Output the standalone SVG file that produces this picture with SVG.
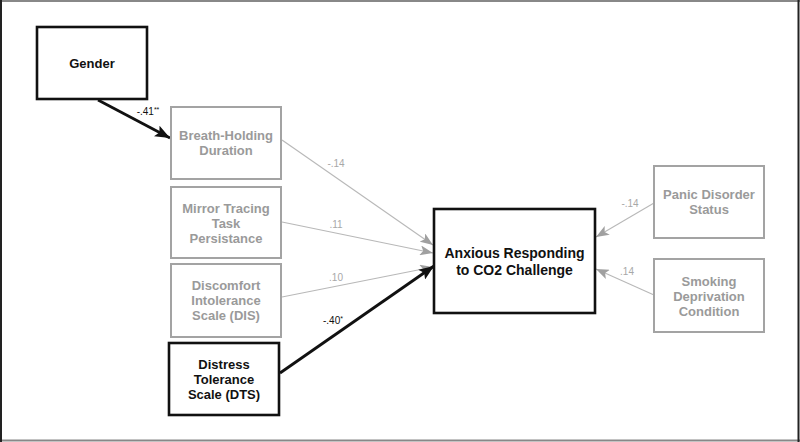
<svg xmlns="http://www.w3.org/2000/svg" width="800" height="442" viewBox="0 0 800 442">
<style>
.bg{fill:#fff}
.frameL{stroke:#222;stroke-width:2}
.frameT{stroke:#888;stroke-width:2}
.bk{fill:#fff;stroke:#111;stroke-width:2.6}
.gy{fill:#fff;stroke:#a3a3a3;stroke-width:2}
.tb{font-family:"Liberation Sans",Arial,sans-serif;font-weight:bold;font-size:13px;fill:#111;text-anchor:middle}
.tg{font-family:"Liberation Sans",Arial,sans-serif;font-weight:bold;font-size:13px;fill:#9a9a9a;text-anchor:middle}
.tbig{font-family:"Liberation Sans",Arial,sans-serif;font-weight:bold;font-size:14px;fill:#111;text-anchor:middle}
.lb{font-family:"Liberation Sans",Arial,sans-serif;font-size:10px;fill:#111;text-anchor:middle}
.lg{font-family:"Liberation Sans",Arial,sans-serif;font-size:10px;fill:#a8a8a8;text-anchor:middle}
.cb{stroke:#111;stroke-width:2.8;fill:none;marker-end:url(#ab)}
.cg{stroke:#b8b8b8;stroke-width:1.1;fill:none;marker-end:url(#ag)}
</style>
<defs>
<marker id="ab" markerUnits="userSpaceOnUse" markerWidth="16" markerHeight="12" refX="15" refY="6" orient="auto"><path d="M0,0 L15,6 L0,12 L3,6 z" fill="#111"/></marker>
<marker id="ag" markerUnits="userSpaceOnUse" markerWidth="14" markerHeight="10" refX="13" refY="5" orient="auto"><path d="M0,0 L13,5 L0,10 L3,5 z" fill="#a0a0a0"/></marker>
</defs>
<rect class="bg" x="0" y="0" width="800" height="442"/>
<line class="frameT" x1="0" y1="1" x2="800" y2="1"/>
<line class="frameT" x1="0" y1="440.5" x2="800" y2="440.5"/>
<line class="frameL" x1="1" y1="0" x2="1" y2="442"/>
<line class="frameL" x1="798.5" y1="0" x2="798.5" y2="442"/>

<g id="connectors">
<line class="cb" x1="98" y1="100" x2="170" y2="138"/>
<line class="cg" x1="282" y1="140" x2="433" y2="245"/>
<line class="cg" x1="282" y1="222" x2="433" y2="253"/>
<line class="cg" x1="282" y1="297" x2="433" y2="267"/>
<line class="cb" x1="280" y1="373" x2="434" y2="266"/>
<line class="cg" x1="654" y1="203" x2="596" y2="237"/>
<line class="cg" x1="654" y1="295" x2="596" y2="269"/>
<text class="lb" x="148" y="115">-.41<tspan font-size="7" dy="-3">**</tspan></text>
<text class="lg" x="336" y="167">-.14</text>
<text class="lg" x="336" y="228">.11</text>
<text class="lg" x="336" y="281">.10</text>
<text class="lb" x="333" y="324">-.40<tspan font-size="7" dy="-3">*</tspan></text>
<text class="lg" x="630" y="207">-.14</text>
<text class="lg" x="627" y="275">.14</text>
</g>

<g id="gender">
<rect class="bk" x="37" y="27" width="110" height="72"/>
<text class="tb" x="92" y="68">Gender</text>
</g>
<g id="breath">
<rect class="gy" x="171" y="107" width="110" height="72"/>
<text class="tg" x="226" y="140">Breath-Holding</text>
<text class="tg" x="226" y="155">Duration</text>
</g>
<g id="mirror">
<rect class="gy" x="171" y="187" width="110" height="71"/>
<text class="tg" x="226" y="213">Mirror Tracing</text>
<text class="tg" x="226" y="228">Task</text>
<text class="tg" x="226" y="243">Persistance</text>
</g>
<g id="dis">
<rect class="gy" x="171" y="264" width="110" height="73"/>
<text class="tg" x="226" y="290">Discomfort</text>
<text class="tg" x="226" y="305">Intolerance</text>
<text class="tg" x="226" y="320">Scale (DIS)</text>
</g>
<g id="dts">
<rect class="bk" x="169" y="343" width="110" height="72"/>
<text class="tb" x="224" y="369">Distress</text>
<text class="tb" x="224" y="384">Tolerance</text>
<text class="tb" x="224" y="399">Scale (DTS)</text>
</g>
<g id="anxious">
<rect class="bk" x="434" y="209" width="161" height="104"/>
<text class="tbig" x="514.5" y="258">Anxious Responding</text>
<text class="tbig" x="514.5" y="275">to CO2 Challenge</text>
</g>
<g id="panic">
<rect class="gy" x="654" y="166" width="110" height="72"/>
<text class="tg" x="709" y="199">Panic Disorder</text>
<text class="tg" x="709" y="214">Status</text>
</g>
<g id="smoking">
<rect class="gy" x="654" y="259" width="110" height="73"/>
<text class="tg" x="709" y="286">Smoking</text>
<text class="tg" x="709" y="301">Deprivation</text>
<text class="tg" x="709" y="316">Condition</text>
</g>
</svg>
